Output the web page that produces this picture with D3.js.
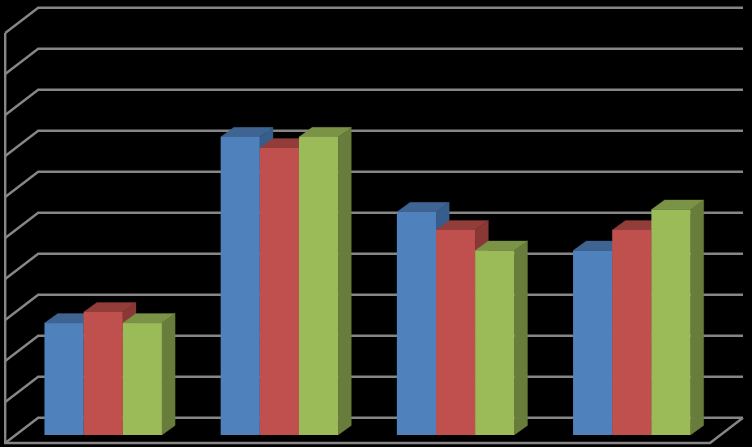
<!DOCTYPE html>
<html><head><meta charset="utf-8">
<style>html,body{margin:0;padding:0;background:#000;overflow:hidden}svg{display:block}</style>
<script src="https://cdn.jsdelivr.net/npm/d3@7"></script>
</head><body><svg id="c" width="752" height="447"></svg>
<script>
const categories = ["A","B","C","D"];
const seriesNames = ["Series 1","Series 2","Series 3"];
const series1 = [2.73,7.27,5.44,4.5];
const series2 = [3,7,5,5];
const series3 = [2.73,7.27,4.5,5.5];
const gridTicks = [0,1,2,3,4,5,6,7,8,9,10];
const colors = ["#4f81bd","#c0504d","#9bbb59"];
const topColors = ["#3f6491","#933d3b","#7a9346"];
const sideColors = ["#365d8c","#8a3836","#687d3c"];

const svg = d3.select("#c");
const W = {x0:5.2,x1:710,dx:33,dy:-25.3,barDx:9.9,barDy:-8};
const yFront = d3.scaleLinear().domain([0,10]).range([443,33]);
const x0 = d3.scaleBand().domain(categories).range([W.x0,W.x1]).paddingInner(1/3).paddingOuter(1/6);
const x1 = d3.scaleBand().domain(seriesNames).range([0,x0.bandwidth()]);
const grid = svg.append("g").attr("fill","none").attr("stroke","#868686").attr("stroke-width",2.4);
grid.selectAll("path.g").data(gridTicks).join("path").attr("class","g")
  .attr("d",t=>d3.line()([[W.x0,yFront(t)],[W.x0+W.dx,yFront(t)+W.dy],[W.x1+W.dx,yFront(t)+W.dy]]));
grid.append("path").attr("d",d3.line()([[W.x0,yFront(10)],[W.x0,yFront(0)],[W.x1,yFront(0)],[W.x1+W.dx,yFront(0)+W.dy]]));

const bars = svg.append("g");
const depthX = 13.2, depthY = -9.6;
const all = [series1,series2,series3];
categories.forEach((c,ci)=>{
  seriesNames.forEach((s,si)=>{
    const v = all[si][ci];
    const l = x0(c)+x1(s)+W.barDx, r = l+x1.bandwidth();
    const t = yFront(v)+W.barDy, b = yFront(0)+W.barDy;
    const g = bars.append("g").attr("stroke-width",0.3);
    g.append("path").attr("fill",sideColors[si]).attr("stroke",sideColors[si])
      .attr("d",d3.line()([[r,t],[r+depthX,t+depthY],[r+depthX,b+depthY],[r,b]])+"Z");
    g.append("path").attr("fill",topColors[si]).attr("stroke",topColors[si])
      .attr("d",d3.line()([[l,t],[l+depthX,t+depthY],[r+depthX,t+depthY],[r,t]])+"Z");
    g.append("rect").attr("fill",colors[si]).attr("x",l).attr("y",t).attr("width",r-l).attr("height",b-t);
  });
});
</script></body></html>
